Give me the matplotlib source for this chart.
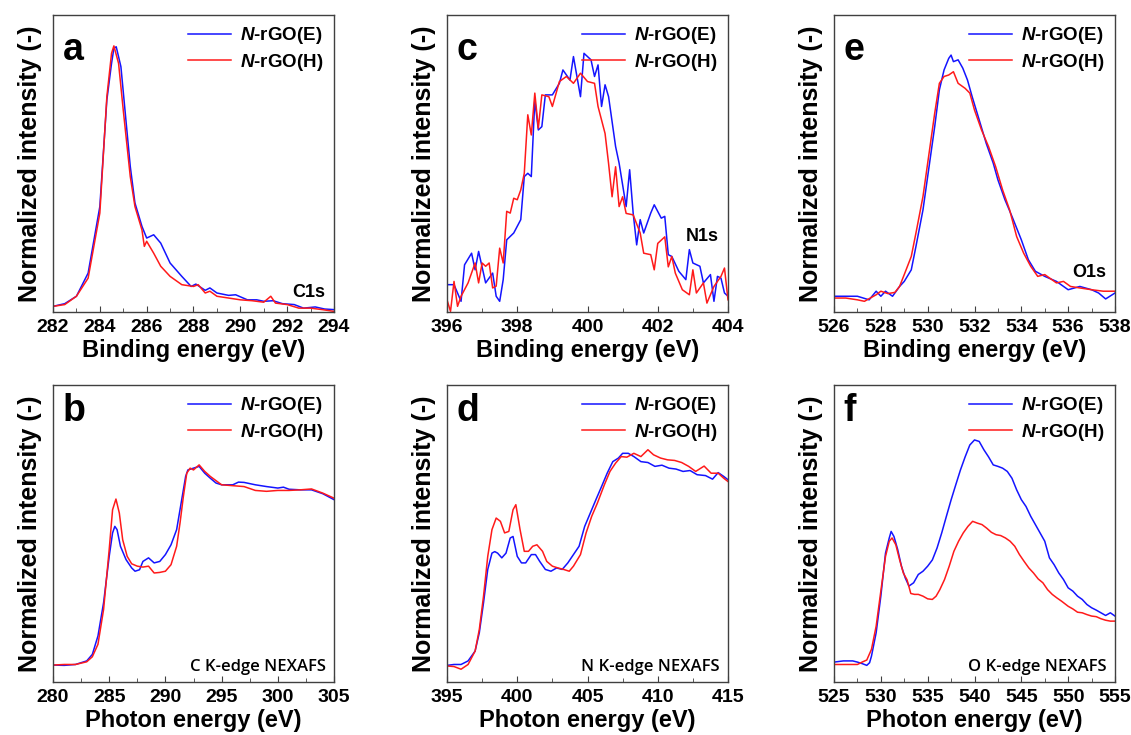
import matplotlib
matplotlib.use("Agg")
import matplotlib.pyplot as plt
from matplotlib.ticker import MultipleLocator

plt.rcParams.update({
    "font.family": "Liberation Sans",
    "font.weight": "bold",
    "axes.labelweight": "bold",
    "mathtext.fontset": "custom",
    "mathtext.it": "Liberation Sans:italic:bold",
    "mathtext.rm": "Liberation Sans:bold",
    "axes.linewidth": 1.0,
    "axes.edgecolor": "#404040",
})

BLUE = "#1414ff"
RED = "#ff1a1a"

# ---- (a) C1s XPS ----
a_x_e = [282, 282.5, 283, 283.5, 284, 284.3, 284.5, 284.6, 284.7, 284.9, 285.1, 285.3, 285.5,
         285.8, 286, 286.3, 286.6, 287, 287.5, 287.9, 288.1, 288.5, 288.7, 289, 289.5, 289.8,
         290.3, 290.7, 291, 291.4, 291.8, 292.3, 292.7, 293.2, 293.6, 294]
a_y_e = [1.9, 2.8, 5.3, 13.1, 35.5, 71.4, 83.7, 88.8, 89.3, 82.6, 65.8, 49.0, 36.7,
         28.8, 24.9, 26.0, 23.2, 16.5, 12.0, 8.6, 9.4, 7.3, 8.1, 6.4, 5.6, 5.8,
         4.1, 4.1, 3.6, 3.8, 2.8, 2.5, 1.3, 1.7, 1.0, 0.8]
a_x_h = [282, 282.5, 283, 283.5, 284, 284.3, 284.5, 284.6, 284.8, 285, 285.3, 285.5, 285.8,
         285.9, 286, 286.3, 286.6, 287, 287.5, 288, 288.2, 288.5, 288.7, 289, 289.5, 290,
         290.5, 291, 291.3, 291.5, 292, 292.5, 293, 293.5, 294]
a_y_h = [1.9, 2.5, 5.3, 11.4, 33.3, 72.5, 87.1, 89.6, 83.7, 68.0, 45.6, 35.5, 27.6,
         22.1, 23.8, 19.8, 15.4, 12.0, 9.2, 8.6, 9.2, 6.4, 7.0, 5.3, 4.7, 4.1,
         3.8, 3.3, 5.3, 3.0, 2.5, 1.3, 1.3, 0.8, 0.2]

# ---- (c) N1s XPS ----
c_x_e = [396, 396.2, 396.4, 396.5, 396.7, 396.8, 396.9, 397.1, 397.3, 397.4, 397.5, 397.6,
         397.7, 397.9, 398.1, 398.2, 398.3, 398.4, 398.5, 398.6, 398.7, 398.8, 399, 399.2,
         399.3, 399.5, 399.6, 399.8, 399.9, 400.1, 400.2, 400.3, 400.4, 400.5, 400.6, 400.8,
         400.9, 401.1, 401.2, 401.3, 401.4, 401.5, 401.6, 401.8, 401.9, 402.1, 402.2, 402.3,
         402.4, 402.6, 402.8, 402.9, 403, 403.2, 403.3, 403.5, 403.6, 403.7, 403.8, 403.9, 404]
c_y_e = [9.2, 9.2, 3.6, 15.9, 19.8, 14.2, 20.4, 9.8, 13.1, 5.3, 3.6, 10.9,
         24.3, 26.6, 31.1, 45.6, 46.7, 45.6, 71.4, 61.3, 62.4, 73.1, 73.1, 77.0,
         81.5, 78.1, 86.0, 72.5, 87.1, 84.9, 79.3, 83.2, 69.2, 76.5, 72.5, 55.7,
         50.1, 35.5, 47.9, 33.3, 22.6, 31.1, 26.6, 33.3, 36.1, 31.6, 32.2, 19.3,
         18.7, 13.7, 10.9, 21.0, 16.5, 15.4, 9.8, 12.6, 3.6, 12.0, 11.4, 6.4, 5.3]
c_x_h = [396, 396.1, 396.2, 396.3, 396.4, 396.6, 396.8, 396.9, 397, 397.1, 397.2, 397.3,
         397.4, 397.5, 397.6, 397.7, 397.8, 397.9, 398, 398.1, 398.2, 398.3, 398.4, 398.5,
         398.6, 398.7, 398.9, 399, 399.2, 399.4, 399.6, 399.8, 400, 400.2, 400.3, 400.5,
         400.6, 400.7, 400.8, 400.9, 401, 401.1, 401.3, 401.5, 401.6, 401.8, 401.9, 402,
         402.2, 402.3, 402.4, 402.5, 402.7, 402.9, 403, 403.1, 403.3, 403.4, 403.6, 403.8,
         403.9, 404]
c_y_h = [4.1, 0.2, 10.3, 1.9, 5.3, 9.8, 16.5, 9.8, 16.5, 15.4, 16.5, 8.1,
         8.7, 21.5, 16.5, 33.9, 33.3, 38.3, 37.8, 41.1, 46.7, 66.4, 59.6, 73.7,
         61.9, 73.1, 72.5, 69.2, 77.6, 79.3, 77.0, 80.4, 77.6, 77.0, 69.2, 60.1,
         50.0, 38.8, 48.9, 35.5, 38.8, 33.2, 32.7, 26.6, 19.8, 19.3, 14.2, 23.1,
         25.3, 15.2, 18.7, 13.1, 7.5, 5.8, 14.2, 6.4, 9.8, 3.0, 8.6, 12.0,
         14.8, 4.1]

# ---- (e) O1s XPS ----
e_x_e = [526, 526.5, 527, 527.5, 527.8, 528, 528.2, 528.5, 528.8, 529, 529.3, 529.5, 529.8,
         530, 530.3, 530.5, 530.7, 530.9, 531, 531.1, 531.3, 531.5, 531.7, 531.9, 532.2,
         532.5, 532.8, 533, 533.3, 533.6, 534, 534.3, 534.6, 535, 535.5, 536, 536.5, 537,
         537.3, 537.6, 538]
e_y_e = [5.3, 5.3, 5.3, 4.1, 7.0, 5.3, 7.0, 5.3, 8.6, 10.3, 14.2, 22.1, 34.4,
         45.6, 62.4, 74.8, 81.5, 85.4, 86.5, 84.3, 84.9, 82.1, 78.1, 72.5, 64.7,
         56.8, 50.1, 44.5, 37.8, 32.2, 24.3, 17.6, 13.7, 12.0, 10.3, 7.5, 8.6, 7.5,
         6.4, 4.4, 6.4]
e_x_h = [526, 526.5, 527, 527.3, 527.8, 528, 528.3, 528.6, 528.8, 529, 529.3, 529.5, 529.8,
         530, 530.3, 530.5, 530.7, 530.9, 531.1, 531.3, 531.6, 531.8, 532, 532.3, 532.6,
         532.9, 533.2, 533.5, 533.8, 534.1, 534.4, 534.7, 535, 535.5, 535.8, 536.1, 536.5,
         537, 537.5, 538]
e_y_h = [4.7, 4.7, 4.1, 3.6, 5.8, 7.0, 6.2, 6.6, 8.6, 12.6, 18.7, 26.6, 38.9,
         50.1, 66.9, 77.0, 79.3, 79.8, 80.9, 77.0, 75.3, 73.7, 68.0, 61.3, 55.7,
         49.0, 41.1, 34.4, 25.4, 19.8, 15.4, 12.0, 12.6, 9.8, 10.3, 8.6, 8.1,
         7.5, 7.0, 7.0]

# ---- (b) C K-edge NEXAFS ----
b_x_e = [280, 281, 282, 283, 283.5, 284, 284.5, 285, 285.3, 285.5, 285.7, 286, 286.5, 287,
         287.3, 287.7, 288, 288.5, 289, 289.5, 290, 290.5, 291, 291.5, 291.8, 292, 292.5,
         293, 293.5, 294, 294.5, 295, 296, 296.5, 297, 298, 299, 300, 300.5, 301, 302,
         303, 304, 305]
b_y_e = [5.7, 5.6, 5.9, 7.1, 9.3, 15.5, 26.7, 42.3, 50.2, 52.4, 51.3, 45.7, 41.2, 38.4,
         37.3, 37.8, 40.6, 41.8, 40.1, 40.6, 42.9, 46.2, 51.3, 62.5, 69.2, 71.4, 72.0,
         72.6, 70.3, 68.6, 67.0, 66.4, 66.4, 67.3, 67.2, 66.4, 65.8, 65.3, 65.6, 64.9, 64.7,
         64.7, 63.4, 61.4]
b_x_h = [280, 281, 282, 283, 283.5, 284, 284.5, 285, 285.3, 285.6, 285.9, 286.2, 286.6, 287,
         287.5, 288, 288.5, 289, 289.5, 290, 290.5, 291, 291.3, 291.6, 291.9, 292.2, 292.5,
         293, 293.5, 294, 295, 296, 297, 298, 299, 300, 301, 302, 303, 304, 305]
b_y_h = [5.7, 5.9, 5.9, 6.8, 8.5, 12.7, 24.4, 44.6, 58.0, 61.6, 56.9, 47.9, 42.3, 39.8,
         39.0, 38.7, 39.0, 36.7, 36.9, 37.3, 39.5, 45.7, 53.5, 62.5, 70.3, 72.0, 71.4,
         73.1, 70.9, 69.2, 66.4, 66.1, 65.8, 64.5, 64.2, 64.5, 64.5, 64.7, 65.0, 63.6, 61.9]

# ---- (d) N K-edge NEXAFS ----
d_x_e = [395, 395.5, 396, 396.5, 397, 397.3, 397.6, 397.9, 398.2, 398.4, 398.6, 398.9, 399.2,
         399.5, 399.7, 400, 400.3, 400.6, 401, 401.3, 401.6, 402, 402.4, 402.8, 403.2, 403.6,
         404, 404.4, 404.8, 405.2, 405.6, 406, 406.4, 406.8, 407.2, 407.5, 407.9, 408.3,
         408.8, 409.3, 409.8, 410.3, 410.8, 411.3, 411.8, 412.3, 412.8, 413.4, 413.9, 414.3,
         414.7, 415]
d_y_e = [5.6, 5.9, 5.9, 7.1, 10.4, 16.6, 26.7, 37.9, 43.4, 43.9, 43.4, 41.8, 43.4,
         48.5, 49.0, 42.3, 40.1, 40.1, 42.9, 42.9, 40.6, 37.9, 37.3, 38.4, 37.9, 40.1,
         42.9, 45.7, 52.4, 56.9, 61.4, 65.8, 70.3, 74.2, 75.4, 77.0, 77.0, 75.9,
         74.2, 73.9, 72.6, 73.0, 72.0, 71.7, 70.9, 71.2, 69.8, 69.5, 68.3, 70.5,
         69.2, 68.1]
d_x_h = [395, 395.5, 396, 396.5, 397, 397.3, 397.6, 397.9, 398.2, 398.5, 398.8, 399.1, 399.4,
         399.7, 399.9, 400.2, 400.5, 400.8, 401.1, 401.4, 401.8, 402.1, 402.5, 402.9, 403.3,
         403.7, 404, 404.5, 404.9, 405.3, 405.7, 406.2, 406.6, 407, 407.4, 407.8, 408.3,
         408.8, 409.3, 409.7, 410.2, 410.7, 411.2, 411.7, 412.2, 412.7, 413.3, 413.8, 414.3,
         414.7, 415]
d_y_h = [5.4, 5.2, 4.3, 5.9, 10.4, 17.7, 28.9, 42.3, 51.3, 55.2, 54.1, 50.2, 50.7,
         58.0, 59.7, 51.3, 44.0, 44.0, 45.7, 46.2, 44.0, 40.6, 39.0, 38.4, 37.9,
         37.3, 39.0, 42.9, 50.2, 55.8, 60.2, 66.4, 70.9, 73.7, 75.9, 75.7, 77.0,
         75.9, 78.2, 76.5, 75.4, 74.8, 74.6, 73.9, 72.6, 70.9, 72.7, 70.3, 70.3,
         68.6, 67.5]

# ---- (f) O K-edge NEXAFS ----
f_x_e = [525, 526, 527, 527.5, 528, 528.5, 528.8, 529, 529.5, 530, 530.5, 530.9, 531.1, 531.4,
         531.8, 532.2, 532.6, 533, 533.5, 534, 534.5, 535, 535.5, 536, 536.5, 537, 537.5,
         538, 538.5, 539, 539.5, 540, 540.5, 541, 541.5, 542, 542.5, 543, 543.5, 544,
         544.5, 545, 545.5, 546, 546.5, 547, 547.5, 548, 548.5, 549, 549.5, 550, 550.5,
         551, 551.5, 552, 552.5, 553, 553.5, 554, 554.5, 555]
f_y_e = [6.7, 7.1, 7.1, 6.7, 6.2, 5.6, 6.5, 8.7, 16.6, 28.9, 43.4, 48.5, 50.7, 49.0,
         44.6, 39.0, 35.1, 32.3, 33.4, 36.2, 37.3, 39.0, 41.1, 45.1, 50.2, 55.8, 61.3,
         66.4, 71.4, 75.8, 79.8, 81.5, 81.0, 78.2, 75.8, 73.1, 72.6, 72.0, 70.9, 68.6,
         64.7, 61.4, 59.1, 55.8, 53.0, 50.2, 47.4, 41.8, 39.5, 36.7, 34.5, 31.7, 30.6,
         28.9, 27.8, 26.1, 25.0, 24.2, 23.3, 22.4, 23.3, 22.2]
f_x_h = [525, 526, 527, 527.5, 528, 528.5, 529, 529.5, 530, 530.5, 530.9, 531.2, 531.6, 532,
         532.4, 532.8, 533.2, 533.6, 534, 534.5, 535, 535.5, 535.9, 536.3, 536.8, 537.3,
         537.8, 538.3, 538.8, 539.3, 539.8, 540.3, 540.8, 541.3, 541.8, 542.3, 542.8, 543.3,
         543.8, 544.3, 544.8, 545.3, 545.8, 546.3, 546.8, 547.3, 547.8, 548.3, 548.8, 549.3,
         550, 550.5, 551, 551.5, 552, 552.5, 553, 553.5, 554, 554.5, 555]
f_y_h = [5.9, 5.9, 5.9, 5.9, 6.7, 7.4, 11.0, 18.8, 30.6, 42.3, 47.4, 48.5, 46.2, 41.2,
         36.7, 34.4, 29.8, 29.5, 29.5, 28.9, 28.0, 27.8, 28.9, 31.1, 34.5, 39.0,
         44.0, 47.4, 50.2, 52.4, 54.1, 53.5, 53.0, 51.8, 50.4, 49.6, 49.3, 48.5,
         47.4, 45.7, 42.9, 40.6, 38.4, 36.7, 34.7, 33.4, 31.1, 29.5, 28.3, 27.2,
         25.5, 24.6, 23.5, 23.3, 22.7, 22.2, 22.0, 21.3, 20.8, 20.5, 20.5]

panels = [
    # letter, blue, red, xlim, major, minor, xlabel, tag, tag height, pixel position
    ("a", (a_x_e, a_y_e), (a_x_h, a_y_h), (282, 294), 2, 1, "Binding energy (eV)", "C1s", 0.05, (53, 15)),
    ("c", (c_x_e, c_y_e), (c_x_h, c_y_h), (396, 404), 2, 1, "Binding energy (eV)", "N1s", 0.24, (447, 15)),
    ("e", (e_x_e, e_y_e), (e_x_h, e_y_h), (526, 538), 2, 1, "Binding energy (eV)", "O1s", 0.118, (834, 15)),
    ("b", (b_x_e, b_y_e), (b_x_h, b_y_h), (280, 305), 5, 2.5, "Photon energy (eV)", "C K-edge NEXAFS", 0.037, (53, 385)),
    ("d", (d_x_e, d_y_e), (d_x_h, d_y_h), (395, 415), 5, 2.5, "Photon energy (eV)", "N K-edge NEXAFS", 0.037, (447, 385)),
    ("f", (f_x_e, f_y_e), (f_x_h, f_y_h), (525, 555), 5, 2.5, "Photon energy (eV)", "O K-edge NEXAFS", 0.037, (834, 385)),
]

W, H = 1131, 735
fig = plt.figure(figsize=(W / 100, H / 100), dpi=100)

for letter, e_data, h_data, xlim, major, minor, xlabel, tag, tag_y, (px, py) in panels:
    aw, ah = 281, 297
    ax = fig.add_axes([px / W, 1 - (py + ah) / H, aw / W, ah / H])
    ax.plot(*e_data, color=BLUE, lw=1.1, label="$N$-rGO(E)")
    ax.plot(*h_data, color=RED, lw=1.1, label="$N$-rGO(H)")
    ax.set_xlim(*xlim)
    ax.set_ylim(0, 100)
    ax.set_yticks([])
    ax.xaxis.set_major_locator(MultipleLocator(major))
    ax.xaxis.set_minor_locator(MultipleLocator(minor))
    ax.tick_params(axis="x", which="both", direction="in", labelsize=14, pad=5, color="#404040")
    ax.tick_params(axis="x", which="major", length=4)
    ax.tick_params(axis="x", which="minor", length=3)
    for lbl in ax.get_xticklabels():
        lbl.set_fontweight("bold")
    ax.set_xlabel(xlabel, fontsize=17, fontweight="bold", labelpad=2)
    ax.set_ylabel("Normalized intensity (-)", fontsize=18, fontweight="bold", labelpad=8)
    ax.text(0.035, 0.85 if py < 100 else 0.878, letter, transform=ax.transAxes, fontsize=27,
            fontweight="bold", va="baseline", ha="left")
    ax.legend(loc="upper right", frameon=False, prop={"size": 13.5, "weight": "bold"},
              handlelength=2.3, handletextpad=0.5, labelspacing=0.3, borderaxespad=0.15)
    if "NEXAFS" in tag:
        ax.text(0.97, tag_y, tag, transform=ax.transAxes, fontsize=12, family="Open Sans",
                fontweight="semibold", ha="right", va="baseline")
    else:
        ax.text(0.968, tag_y, tag, transform=ax.transAxes, fontsize=13, fontweight="bold",
                ha="right", va="baseline")

fig.savefig("out.png", dpi=100)
